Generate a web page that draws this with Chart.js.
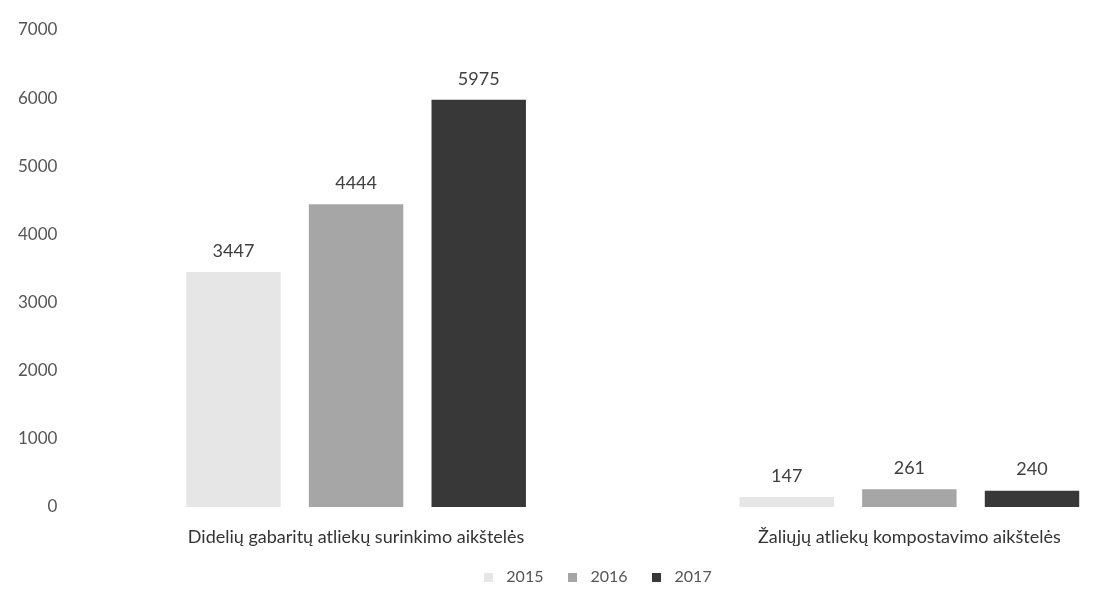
<!DOCTYPE html>
<html>
<head>
<meta charset="utf-8">
<script src="https://cdn.jsdelivr.net/npm/chart.js@4"></script>
<style>
  body { margin: 0; background: #fff; overflow: hidden; }
</style>
</head>
<body>
<canvas id="chart" width="1186" height="600"></canvas>
<script>
const categories = ['Didelių gabaritų atliekų surinkimo aikštelės', 'Žaliųjų atliekų kompostavimo aikštelės'];
const years = ['2015', '2016', '2017'];
const values2015 = [3447, 147];
const values2016 = [4444, 261];
const values2017 = [5975, 240];
const yTicks = [0, 1000, 2000, 3000, 4000, 5000, 6000, 7000];

const colors = ['#e6e6e6', '#a6a6a6', '#383838'];

// small square used as legend marker, so the legend spacing can be wider than the box
function swatch(color) {
    const c = document.createElement('canvas');
    c.width = 9;
    c.height = 9;
    const g = c.getContext('2d');
    g.fillStyle = color;
    g.fillRect(0, 0, 9, 9);
    return c;
}

// draws the number above each bar
const valueLabels = {
    id: 'valueLabels',
    afterDatasetsDraw(chart) {
        const ctx = chart.ctx;
        ctx.save();
        ctx.font = '18px Lato';
        ctx.fillStyle = '#404040';
        ctx.textAlign = 'center';
        ctx.textBaseline = 'bottom';
        chart.data.datasets.forEach((ds, i) => {
            chart.getDatasetMeta(i).data.forEach((bar, j) => {
                ctx.fillText(ds.data[j], bar.x, bar.y - 12);
            });
        });
        ctx.restore();
    }
};

new Chart(document.getElementById('chart'), {
    type: 'bar',
    data: {
        labels: categories,
        datasets: [
            { label: years[0], data: values2015, backgroundColor: colors[0], pointStyle: swatch(colors[0]) },
            { label: years[1], data: values2016, backgroundColor: colors[1], pointStyle: swatch(colors[1]) },
            { label: years[2], data: values2017, backgroundColor: colors[2], pointStyle: swatch(colors[2]) },
        ],
    },
    options: {
        responsive: false,
        animation: false,
        layout: { padding: { top: 30, left: 4, right: 0, bottom: 5 } },
        datasets: {
            bar: { categoryPercentage: 0.665, barPercentage: 0.77 }
        },
        scales: {
            x: {
                grid: { display: false, drawTicks: false },
                border: { display: false },
                ticks: { color: '#333', font: { family: 'Lato', size: 18, lineHeight: 1 }, padding: 21 },
                // padding is counted twice by default; only keep it above the labels
                afterFit: (axis) => { axis.height -= 17; }
            },
            y: {
                min: 0,
                max: 7000,
                afterBuildTicks: (axis) => { axis.ticks = yTicks.map((v) => ({ value: v })); },
                grid: { display: false },
                border: { display: false },
                ticks: {
                    color: '#555',
                    font: { family: 'Lato', size: 17 },
                    padding: 14,
                    callback: (v) => String(v)
                }
            }
        },
        plugins: {
            legend: {
                position: 'bottom',
                labels: {
                    color: '#555',
                    font: { family: 'Lato', size: 16, lineHeight: 1 },
                    usePointStyle: true,
                    pointStyleWidth: 20,
                    boxHeight: 9,
                    padding: 19
                }
            },
            tooltip: { enabled: false }
        }
    },
    plugins: [valueLabels]
});
</script>
</body>
</html>
